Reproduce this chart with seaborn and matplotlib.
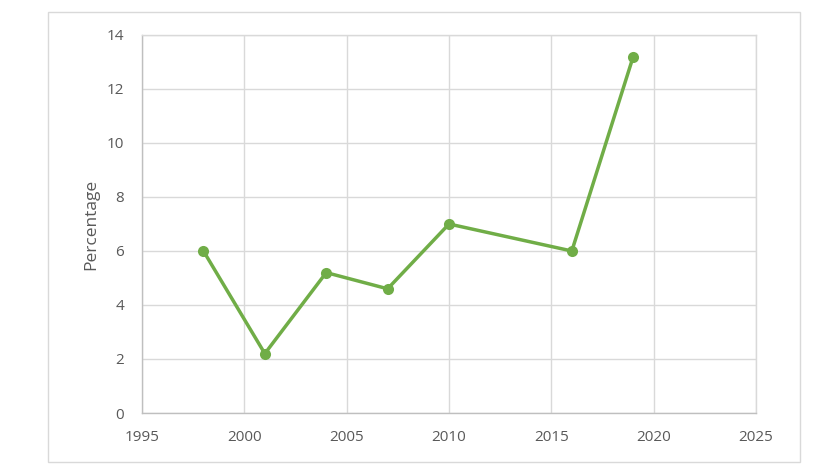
import matplotlib
matplotlib.use("Agg")
import matplotlib.pyplot as plt
import seaborn as sns
import pandas as pd
from matplotlib.patches import Rectangle

# 데이터
years = [1998, 2001, 2004, 2007, 2010, 2016, 2019]
percentage = [6, 2.2, 5.2, 4.6, 7, 6, 13.2]
x_ticks = [1995, 2000, 2005, 2010, 2015, 2020, 2025]
y_ticks = [0, 2, 4, 6, 8, 10, 12, 14]

df = pd.DataFrame({"year": years, "pct": percentage})

sns.set_style("white")
plt.rcParams["font.family"] = ["Open Sans", "DejaVu Sans"]

fig = plt.figure(figsize=(8.34, 4.69), dpi=100)
ax = fig.add_axes([0.1703, 0.1194, 0.7362, 0.806])

green = "#70AD47"
sns.lineplot(data=df, x="year", y="pct", ax=ax, color=green, linewidth=2.5,
             marker="o", markersize=8, markeredgewidth=0, zorder=3)

ax.set_xlim(1995, 2025)
ax.set_ylim(0, 14)
ax.set_xticks(x_ticks)
ax.set_yticks(y_ticks)
ax.grid(True, color="#D9D9D9", linewidth=1)
ax.set_axisbelow(True)
for side in ["top", "right"]:
    ax.spines[side].set_color("#D9D9D9")
for side in ["left", "bottom"]:
    ax.spines[side].set_color("#BFBFBF")
for s in ax.spines.values():
    s.set_linewidth(1)
ax.tick_params(axis="both", length=0, labelsize=11, colors="#595959")
ax.tick_params(axis="y", pad=13)
ax.tick_params(axis="x", pad=12)
ax.set_xlabel("")
ax.set_ylabel("Percentage", fontsize=12.5, color="#595959", labelpad=5)

# 바깥 테두리
fig.patches.append(Rectangle((0.0576, 0.0149), 0.9017, 0.9595, transform=fig.transFigure,
                             fill=False, edgecolor="#D9D9D9", linewidth=1))

fig.savefig("out.png", dpi=100)
plt.close(fig)
